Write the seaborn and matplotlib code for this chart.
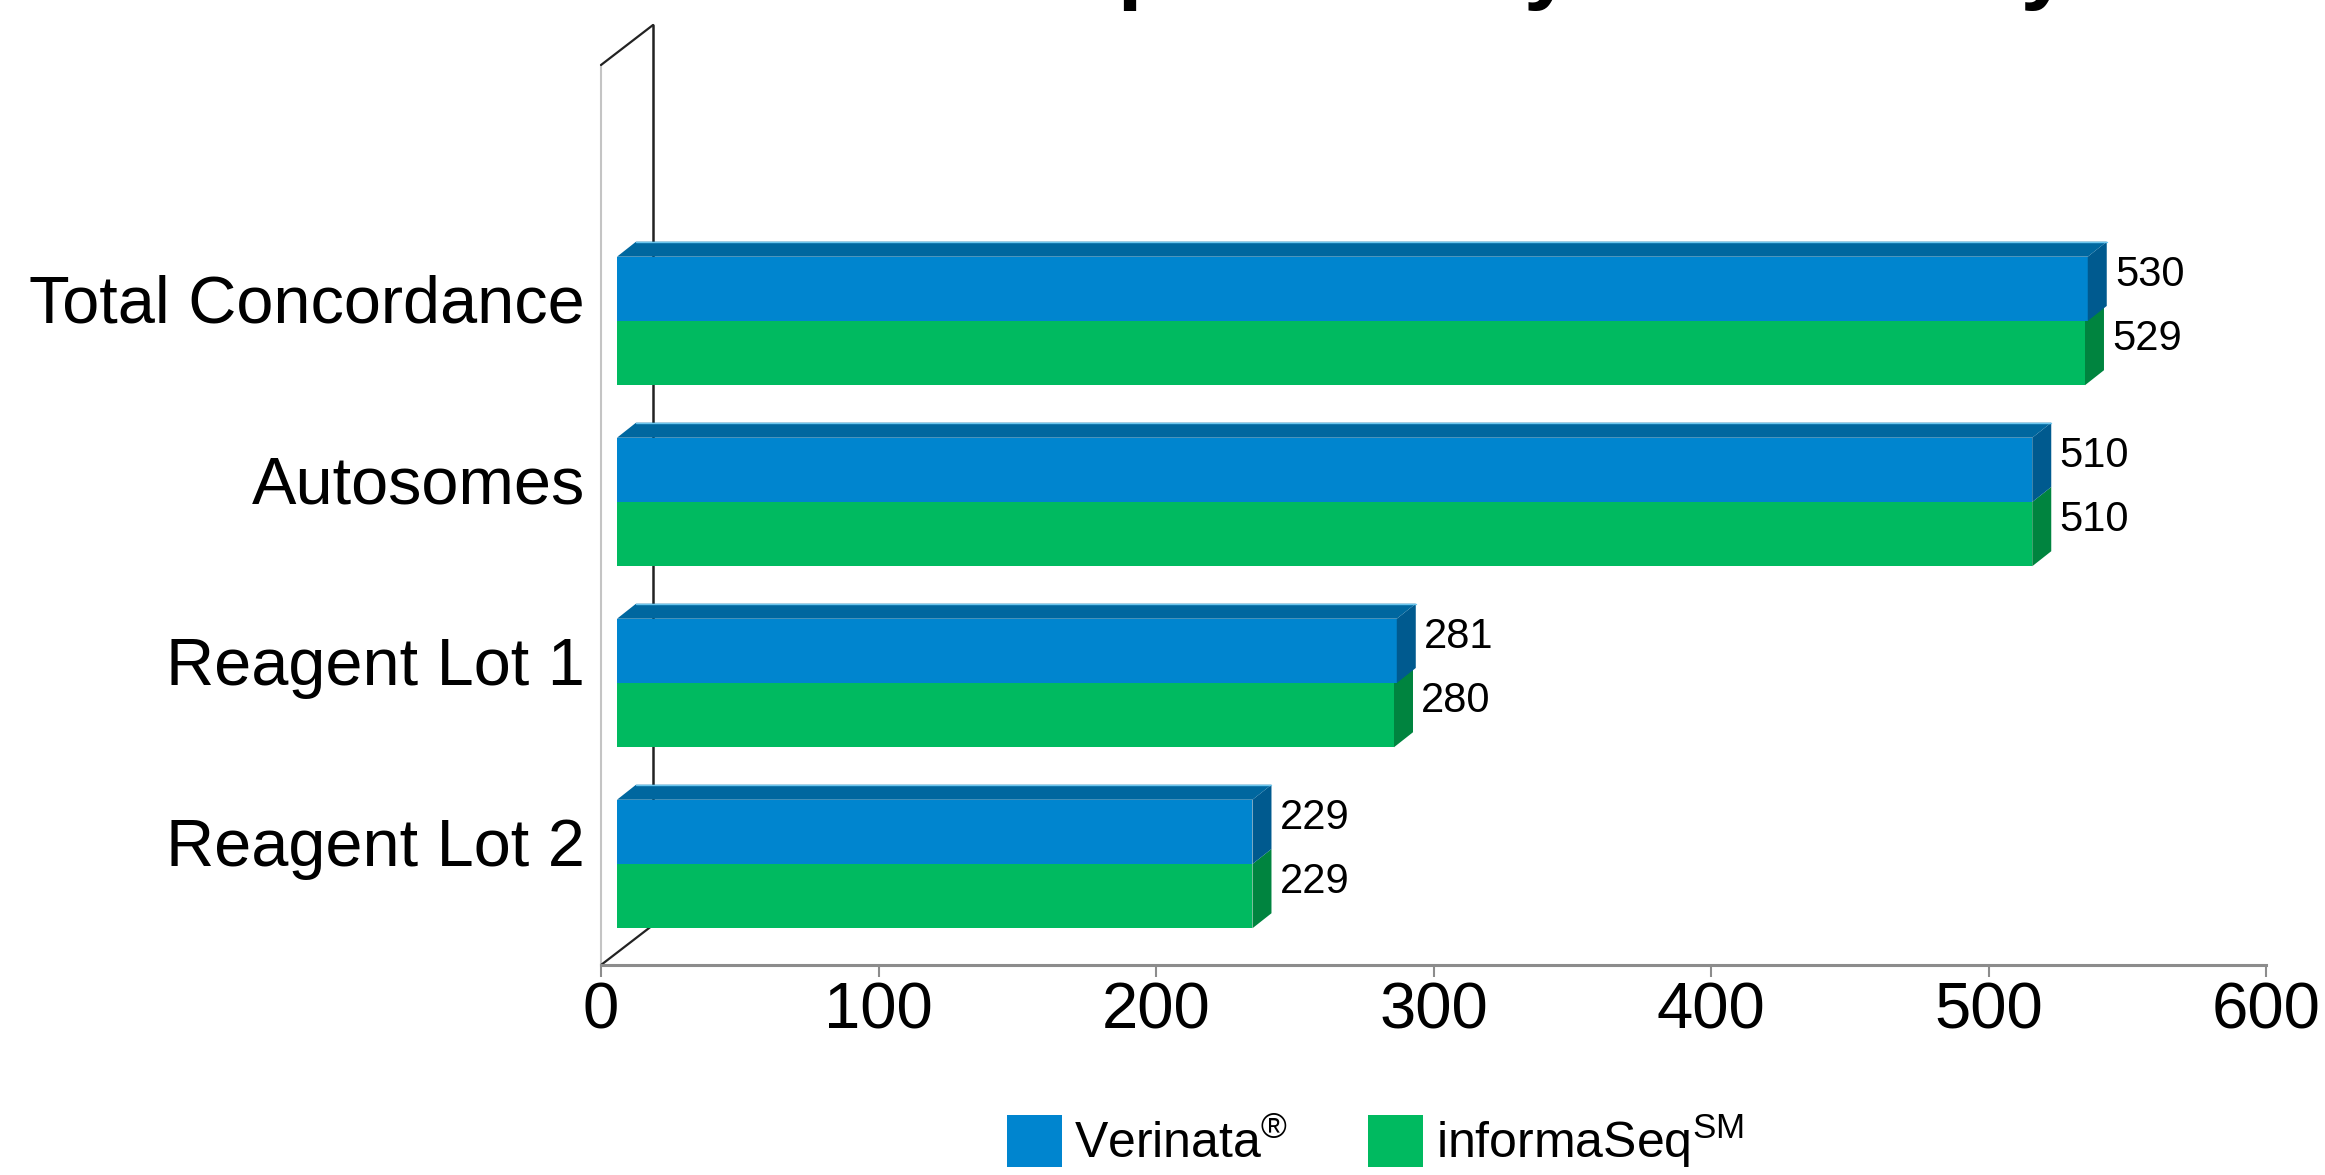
import matplotlib
matplotlib.use("Agg")
import matplotlib.pyplot as plt
import matplotlib.transforms as mtransforms
from matplotlib.patches import Polygon, Patch
from matplotlib.lines import Line2D
import seaborn as sns
import pandas as pd

# ---- data ----
categories = ["Total Concordance", "Autosomes", "Reagent Lot 1", "Reagent Lot 2"]
series_names = ["Verinata", "informaSeq"]
verinata_values = [530, 510, 281, 229]
informaseq_values = [529, 510, 280, 229]
legend_labels = ["Verinata$^{®}$", "informaSeq$^{SM}$"]
x_ticks = [0, 100, 200, 300, 400, 500, 600]
title_text = "Comparison by Laboratory"

# ---- colours ----
front_colors = ["#0085CF", "#00BA60"]
top_colors = ["#00679F", "#00914A"]
side_colors = ["#005A8F", "#00843F"]

sns.set_theme(style="white")
plt.rcParams["font.family"] = ["Liberation Sans", "DejaVu Sans"]
plt.rcParams["mathtext.fontset"] = "custom"
plt.rcParams["mathtext.rm"] = "Liberation Sans"
plt.rcParams["mathtext.default"] = "regular"
plt.rcParams["text.color"] = "black"

df = pd.DataFrame({
    "category": categories * 2,
    "series": [series_names[0]] * len(categories) + [series_names[1]] * len(categories),
    "value": verinata_values + informaseq_values,
})

W, H = 2325, 1175
fig = plt.figure(figsize=(W / 100, H / 100), dpi=100)
ax = fig.add_axes([601 / W, (H - 965) / H, 1665 / W, 900 / H])

sns.barplot(data=df, y="category", x="value", hue="series", orient="h",
            palette=front_colors, width=0.71, saturation=1, linewidth=0,
            legend=False, ax=ax)

ax.set_xlim(0, 600)
ax.set_ylim(3.558, -1.414)
ax.set_xticks(x_ticks)
ax.set_xticklabels([str(t) for t in x_ticks])
ax.set_xlabel("")
ax.set_ylabel("")
for s in ["top", "right", "left"]:
    ax.spines[s].set_visible(False)
ax.spines["bottom"].set_color("#8c8c8c")
ax.spines["bottom"].set_linewidth(2.2)
ax.tick_params(axis="x", direction="out", length=8.6, width=1.5, color="#8c8c8c",
               labelsize=47, pad=3, labelcolor="black", bottom=True)
ax.tick_params(axis="y", length=0, labelsize=48, pad=11.5, labelcolor="black")

# shift category labels slightly upward (3D depth centre)
lab_shift = mtransforms.ScaledTranslation(0, 22 / 100, fig.dpi_scale_trans)
for lab in ax.get_yticklabels():
    lab.set_transform(lab.get_transform() + lab_shift)

# ---- walls ----
wall_off = mtransforms.ScaledTranslation(52 / 100, 40 / 100, fig.dpi_scale_trans)
ta = ax.transAxes
ax.add_line(Line2D([0, 0], [0, 1], transform=ta, color="#c4c4c4", lw=1.5, zorder=1, clip_on=False))
ax.add_line(Line2D([0, 0], [0, 1], transform=ta + wall_off, color="#222222", lw=1.8, zorder=1, clip_on=False))
for yy in (0, 1):
    fp = ta.transform((0, yy))
    bp = (ta + wall_off).transform((0, yy))
    ax.add_line(Line2D([fp[0], bp[0]], [fp[1], bp[1]], transform=None,
                       color="#222222", lw=1.6, zorder=1, clip_on=False))

# ---- 3D bar faces ----
bar_shift = mtransforms.ScaledTranslation(16 / 100, 0, fig.dpi_scale_trans)
tr = ax.transData + bar_shift
p0 = ax.transData.transform((0, 0))
p1 = ax.transData.transform((1, 1))
ppx = abs(p1[0] - p0[0])
ppy = abs(p1[1] - p0[1])
ddx = 19 / ppx
ddy = 15 / ppy

containers = list(ax.containers)
for si, cont in enumerate(containers):
    for rect in cont:
        rect.set_transform(tr)
        rect.set_zorder(3)
        x0 = rect.get_x()
        w = rect.get_width()
        y0 = rect.get_y()
        h = rect.get_height()
        ytop = min(y0, y0 + h)
        ybot = max(y0, y0 + h)
        x1 = x0 + w
        side = Polygon([(x1, ytop), (x1 + ddx, ytop - ddy), (x1 + ddx, ybot - ddy), (x1, ybot)],
                       closed=True, facecolor=side_colors[si], edgecolor="none",
                       transform=tr, zorder=4 if si == 0 else 2)
        ax.add_patch(side)
        if si == 0:
            top = Polygon([(x0, ytop), (x1, ytop), (x1 + ddx, ytop - ddy), (x0 + ddx, ytop - ddy)],
                          closed=True, facecolor=top_colors[si], edgecolor="none",
                          transform=tr, zorder=4)
            ax.add_patch(top)
            ax.add_line(Line2D([x0 + ddx, x1 + ddx], [ytop - ddy, ytop - ddy], transform=tr,
                               color="#6cc6ee", lw=1.0, zorder=5))
        yc = (ytop + ybot) / 2
        ax.annotate(f"{int(round(w))}", xy=(w, yc), xycoords="data",
                    xytext=(31, 10), textcoords="offset points",
                    ha="left", va="center", fontsize=30, color="black", zorder=6,
                    annotation_clip=False)

# ---- legend ----
handles = [Patch(facecolor=front_colors[0], edgecolor="none"),
           Patch(facecolor=front_colors[1], edgecolor="none")]
leg = fig.legend(handles, legend_labels, loc="center", bbox_to_anchor=(0.5915, 0.029),
                 ncol=2, frameon=False, fontsize=36, handlelength=1.1, handleheight=1.2,
                 handletextpad=0.25, columnspacing=1.6, borderpad=0, borderaxespad=0)
for t in leg.get_texts():
    t.set_color("black")

# ---- title (cut off at the top edge as in the reference) ----
fig.text(917 / W, 1 + 8 / H, title_text, fontsize=65, fontweight="bold",
         ha="left", va="baseline", color="black")

fig.savefig("out.png", dpi=100)
